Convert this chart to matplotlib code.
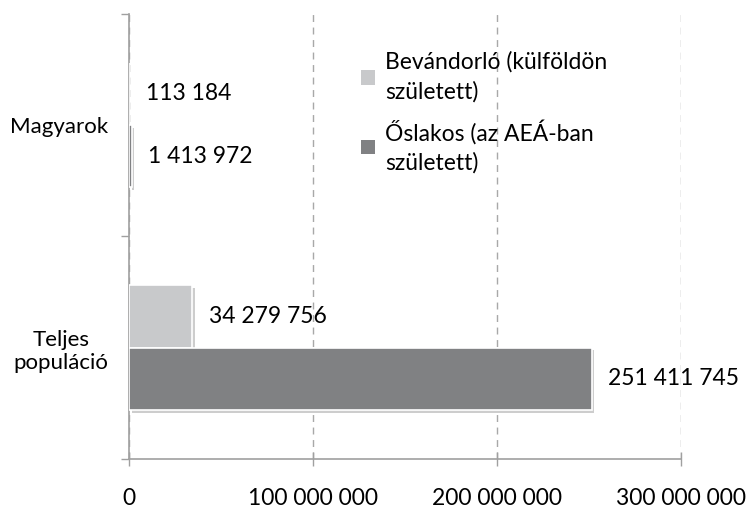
import numpy as np
import matplotlib.pyplot as plt
import matplotlib.patheffects as pe
from matplotlib.patches import Patch

plt.rcParams['font.family'] = ['Lato', 'DejaVu Sans']

categories = ['Teljes\npopuláció', 'Magyarok']
bevandorlo = [34279756, 113184]
oslakos = [251411745, 1413972]
series_names = ['Bevándorló (külföldön\nszületett)', 'Őslakos (az AEÁ-ban\nszületett)']
colors = ['#C8C9CB', '#808183']
xticks = [0, 100000000, 200000000, 300000000]


def fmt(v):
    return f"{v:,}".replace(",", " ")


fig = plt.figure(figsize=(7.5, 5.12), dpi=100)
ax = fig.add_axes([0.172, 0.1035, 0.736, 0.8695])

y = np.arange(len(categories))
h = 0.28
shadow = [pe.SimplePatchShadow(offset=(2, -2), alpha=0.35, shadow_rgbFace='#707070'), pe.Normal()]

b1 = ax.barh(y + h / 2, bevandorlo, height=h, color=colors[0], edgecolor='white', linewidth=1.2,
             path_effects=shadow, zorder=3)
b2 = ax.barh(y - h / 2, oslakos, height=h, color=colors[1], edgecolor='white', linewidth=1.2,
             path_effects=shadow, zorder=3)

for bars, vals in [(b1, bevandorlo), (b2, oslakos)]:
    for bar, v in zip(bars, vals):
        ax.annotate(fmt(v), (v, bar.get_y() + bar.get_height() / 2), xytext=(12, 0),
                    textcoords='offset points', va='center', ha='left', fontsize=16.5)

ax.set_xlim(0, 300000000)
ax.set_ylim(-0.5, 1.5)
ax.set_xticks(xticks)
ax.set_xticklabels([fmt(v) for v in xticks], fontsize=16.5)
ax.tick_params(axis='x', direction='inout', length=10, width=1, color='#A0A0A0', pad=16)
ax.xaxis.grid(True, linestyle=(0, (5, 4)), color='#A8A8A8', linewidth=1, zorder=0)

ax.set_yticks(y)
ax.set_yticklabels(categories, fontsize=16, multialignment='center')
ax.tick_params(axis='y', length=0, pad=15)
ax.set_yticks([-0.5, 0.5, 1.5], minor=True)
ax.tick_params(axis='y', which='minor', direction='out', length=6, width=1, color='#A0A0A0')

for s in ['top', 'right']:
    ax.spines[s].set_visible(False)
for s in ['left', 'bottom']:
    ax.spines[s].set_color('#A0A0A0')
    ax.spines[s].set_linewidth(1.2)

handles = [Patch(facecolor=c, edgecolor='none') for c in colors]
leg = ax.legend(handles, series_names, loc='upper left', bbox_to_anchor=(0.383, 0.962), frameon=False,
                fontsize=16.5, handlelength=0.6, handleheight=0.6, handletextpad=0.45, labelspacing=0.75)
for t in leg.get_texts():
    t.set_linespacing(1.45)

fig.savefig('out.png', dpi=100)
